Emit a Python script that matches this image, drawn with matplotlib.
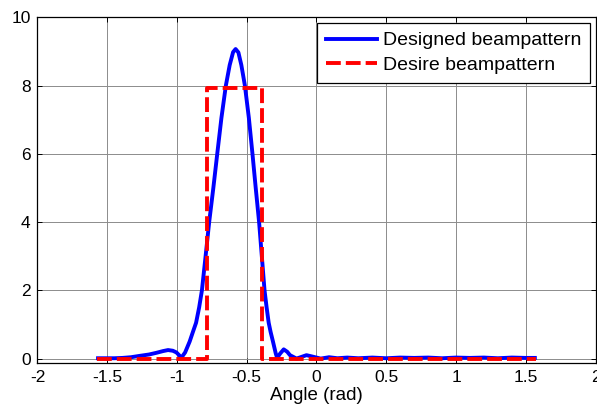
import numpy as np
import matplotlib
matplotlib.use('Agg')
import matplotlib.pyplot as plt

plt.rcParams['font.family'] = ['Liberation Sans', 'DejaVu Sans']

# designed beampattern (angle in rad, gain)
angle_designed = [-1.566, -1.45, -1.39, -1.33, -1.267, -1.2, -1.147, -1.10, -1.064,
                  -1.03, -1.004, -0.985, -0.968, -0.9418, -0.9092, -0.886, -0.8632,
                  -0.8412, -0.8213, -0.795, -0.7693, -0.7395, -0.7115, -0.6816, -0.6497,
                  -0.6223, -0.5979, -0.5799, -0.5598, -0.5387, -0.5133, -0.4848, -0.459,
                  -0.4357, -0.4115, -0.392, -0.3725, -0.3576, -0.3427, -0.3289, -0.3121,
                  -0.2921, -0.282, -0.26, -0.235, -0.21, -0.19, -0.143, -0.1, -0.072,
                  -0.04, 0.03, 0.09, 0.15, 0.22, 0.3, 0.4, 0.5, 0.6, 0.7, 0.8, 0.9,
                  1.0, 1.1, 1.2, 1.3, 1.4, 1.5, 1.565]
gain_designed = [0.01, 0.01, 0.02, 0.04, 0.08, 0.12, 0.17, 0.22, 0.25,
                 0.23, 0.18, 0.10, 0.03, 0.18, 0.5, 0.78, 1.05,
                 1.5, 2.0, 3.0, 4.0, 5.0, 6.0, 7.05, 8.0,
                 8.6, 8.98, 9.07, 8.97, 8.6, 8.0, 7.05, 6.0,
                 5.0, 4.0, 3.0, 2.0, 1.5, 1.05, 0.78, 0.5,
                 0.15, 0.02, 0.15, 0.27, 0.2, 0.1, 0.0, 0.06, 0.1,
                 0.07, 0.0, 0.04, 0.01, 0.03, 0.01, 0.03, 0.01, 0.03, 0.02, 0.03, 0.01,
                 0.03, 0.02, 0.03, 0.01, 0.03, 0.02, 0.02]

# desired beampattern (rectangular)
angle_desired = [-np.pi / 2, -np.pi / 4, -np.pi / 4, -np.pi / 8, -np.pi / 8, np.pi / 2]
gain_desired = [0, 0, 7.92, 7.92, 0, 0]

xticks = [-2, -1.5, -1, -0.5, 0, 0.5, 1, 1.5, 2]
xticklabels = ['-2', '-1.5', '-1', '-0.5', '0', '0.5', '1', '1.5', '2']
yticks = [0, 2, 4, 6, 8, 10]

fig = plt.figure(figsize=(5.97, 4.19), dpi=100)
ax = fig.add_axes([0.0628, 0.1344, 0.9347, 0.8243])

ax.plot(angle_designed, gain_designed, color='#0000ff', lw=2.8, label='Designed beampattern')
ax.plot(angle_desired, gain_desired, color='#ff0000', lw=2.8, linestyle=(0, (3.8, 1.3)),
        label='Desire beampattern')

ax.set_xlim(-2, 2)
ax.set_ylim(-0.12, 10)
ax.set_xticks(xticks)
ax.set_xticklabels(xticklabels)
ax.set_yticks(yticks)
ax.grid(True, color='#8c8c8c', lw=0.7)
ax.tick_params(direction='in', length=3.6, width=0.7, top=True, right=True,
               labelsize=12.5, pad=5)
for s in ax.spines.values():
    s.set_linewidth(0.9)

ax.set_xlabel('Angle (rad)', fontsize=13.5, labelpad=2)

leg = ax.legend(loc='upper right', fontsize=14, handlelength=2.6, handletextpad=0.3,
                borderaxespad=0.3, borderpad=0.45, labelspacing=0.35, fancybox=False,
                framealpha=1)
leg.get_frame().set_edgecolor('black')
leg.get_frame().set_linewidth(0.9)

plt.savefig('out.png', dpi=100)
